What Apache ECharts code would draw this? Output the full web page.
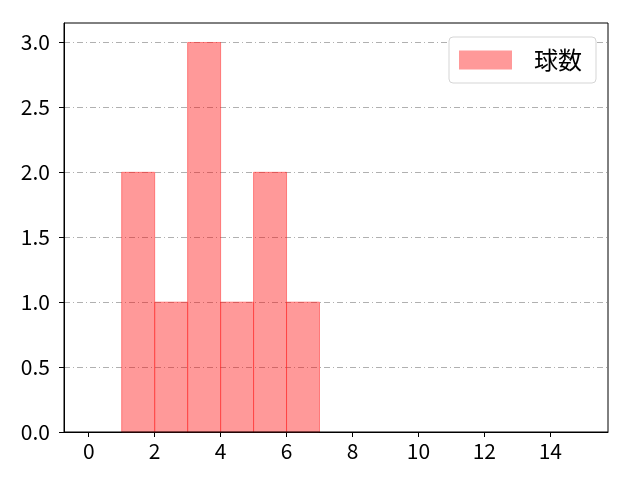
<!DOCTYPE html>
<html>
<head>
<meta charset="utf-8">
<script src="https://cdn.jsdelivr.net/npm/echarts@6/dist/echarts.min.js"></script>
<style>
  html, body { margin: 0; padding: 0; background: #fff; }
  #main { width: 640px; height: 480px; }
</style>
</head>
<body>
<div id="main"></div>
<script>
// histogram bins (left edge, right edge) and counts
var binStarts = [1, 2, 3, 4, 5, 6]
var binEnds = [2, 3, 4, 5, 6, 7]
var counts = [2, 1, 3, 1, 2, 1]
var xTicks = [0, 2, 4, 6, 8, 10, 12, 14]
var yTicks = [0, 0.5, 1.0, 1.5, 2.0, 2.5, 3.0]
var seriesName = '球数'

var font = '"Noto Sans CJK JP", sans-serif'

var bins = binStarts.map(function (s, i) { return [s, binEnds[i], counts[i]] })

var myChart = echarts.init(document.getElementById('main'))
myChart.setOption({
  animation: false,
  grid: { left: 64, right: 32, top: 23, bottom: 48, containLabel: false },
  xAxis: {
    type: 'value', min: -0.75, max: 15.75,
    axisLine: { onZero: false, lineStyle: { color: '#000', width: 1 } },
    axisTick: { show: true, length: 5, lineStyle: { color: '#000' }, customValues: xTicks },
    axisLabel: {
      color: '#000', fontSize: 21, fontFamily: font, margin: 9,
      customValues: xTicks
    },
    splitLine: { show: false }
  },
  yAxis: {
    type: 'value', min: 0, max: 3.15,
    axisLine: { show: true, onZero: false, lineStyle: { color: '#000', width: 1 } },
    axisTick: { show: true, length: 5, lineStyle: { color: '#000' }, customValues: yTicks },
    axisLabel: {
      color: '#000', fontSize: 21, fontFamily: font, margin: 14,
      customValues: yTicks,
      formatter: function (v) { return v.toFixed(1) }
    },
    splitLine: { show: true, lineStyle: { color: '#b0b0b0', width: 1, type: [6, 3, 1, 3] } }
  },
  legend: {
    right: 44, top: 37,
    data: [seriesName],
    itemWidth: 53, itemHeight: 19, itemGap: 10,
    padding: [11, 14, 11, 10],
    backgroundColor: '#fff',
    borderColor: '#d5d5d5', borderWidth: 1, borderRadius: 4,
    textStyle: { fontSize: 24, lineHeight: 24, fontFamily: font, color: '#000', padding: [0, 0, 0, 17] },
    icon: 'rect'
  },
  series: [{
    name: seriesName,
    type: 'custom',
    itemStyle: { color: 'rgba(255,0,0,0.4)', borderColor: 'rgba(255,60,60,0.6)' },
    renderItem: function (params, api) {
      var p0 = api.coord([api.value(0), api.value(2)])
      var p1 = api.coord([api.value(1), 0])
      return {
        type: 'rect',
        shape: { x: p0[0], y: p0[1], width: p1[0] - p0[0], height: p1[1] - p0[1] },
        style: { fill: 'rgba(255,0,0,0.4)', stroke: 'rgba(255,40,40,0.5)', lineWidth: 1 }
      }
    },
    encode: { x: [0, 1], y: 2 },
    data: bins
  }]
})

// draw the top and right spines of the axes box
var gRect = myChart.getModel().getComponent('grid').coordinateSystem.getRect()
myChart.setOption({
  graphic: [{
    type: 'rect', silent: true, z: 10,
    shape: { x: gRect.x, y: gRect.y, width: gRect.width, height: gRect.height },
    style: { fill: 'none', stroke: '#000', lineWidth: 1 }
  }]
})
</script>
</body>
</html>
